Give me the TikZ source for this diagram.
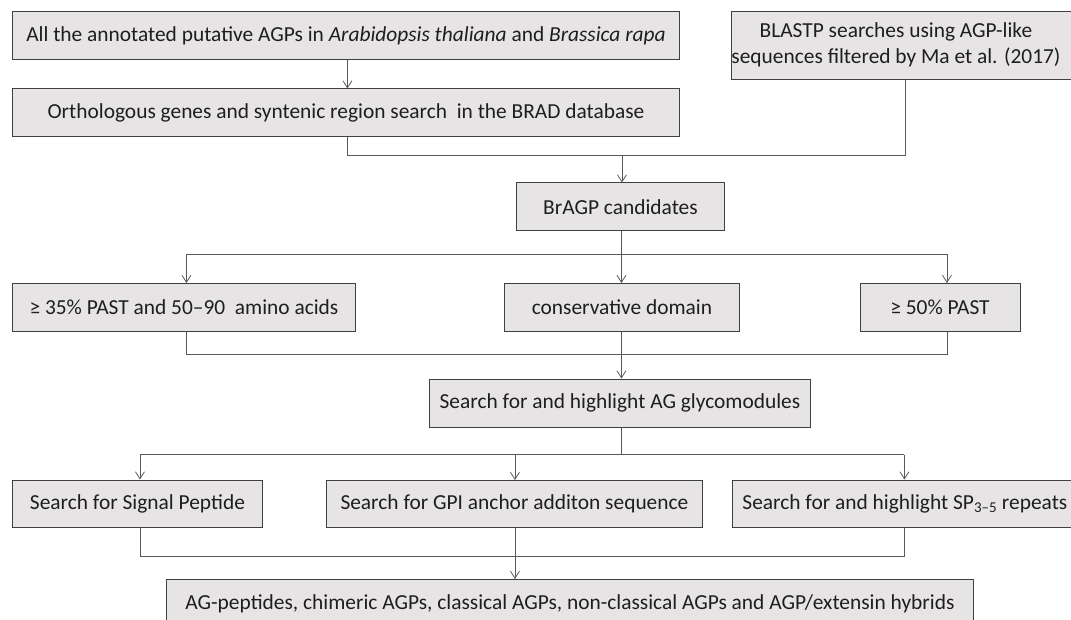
\documentclass[tikz,border=0pt]{standalone}
\usepackage{fontspec}
\setmainfont{Carlito}
\usetikzlibrary{arrows.meta}
\definecolor{boxfill}{RGB}{231,228,229}
\definecolor{boxline}{RGB}{64,64,64}
\definecolor{conn}{RGB}{89,89,89}
\definecolor{txt}{RGB}{30,30,30}
\begin{document}
\begin{tikzpicture}[x=1pt,y=-1pt,
  box/.style={draw=boxline, fill=boxfill, text=txt, line width=0.9pt, anchor=north west, inner sep=0pt, font=\fontsize{21.4}{26}\selectfont},
  arr/.style={draw=conn, line width=0.8pt, -{Straight Barb[length=7pt,width=9pt]}},
  ln/.style={draw=conn, line width=0.8pt}]
\useasboundingbox (0,0) rectangle (1071,620);
\clip (0,0) rectangle (1071,620);
% boxes
\node[box, minimum width=667pt, minimum height=48.5pt] (b1) at (12,11) {All the annotated putative AGPs in \textit{Arabidopsis thaliana} and \textit{Brassica rapa}};
\node[box, minimum width=667pt, minimum height=47.5pt] (b2) at (12,88.5) {Orthologous genes and syntenic region search\ \ in the BRAD database};
\node[box, minimum width=349pt, minimum height=68pt] (blast) at (731,11.3) {\makebox[349pt][l]{\begin{tabular}{@{}c@{}}BLASTP searches using AGP-like\\sequences filtered by Ma et al. (2017)\end{tabular}}};
\node[box, minimum width=208pt, minimum height=47.5pt] (bragp) at (516,182.5) {BrAGP candidates};
\node[box, minimum width=343pt, minimum height=48pt] (r1) at (12,283) {≥ 35\% PAST and 50–90\ \ amino acids};
\node[box, minimum width=235pt, minimum height=48pt] (r2) at (504,283) {conservative domain};
\node[box, minimum width=160pt, minimum height=48pt] (r3) at (859.5,283) {≥ 50\% PAST};
\node[box, minimum width=381pt, minimum height=48.5pt] (ag) at (429,378.5) {Search for and highlight AG glycomodules};
\node[box, minimum width=250pt, minimum height=47.5pt] (s1) at (12,479.5) {Search for Signal Peptide};
\node[box, minimum width=376pt, minimum height=47pt] (s2) at (326,480) {Search for GPI anchor additon sequence};
\node[box, minimum width=350pt, minimum height=47.5pt] (s3) at (732,479.5) {\makebox[330pt][l]{Search for and highlight SP\textsubscript{3–5} repeats}};
\node[box, minimum width=807pt, minimum height=48pt] (fin) at (166,579) {AG-peptides, chimeric AGPs, classical AGPs, non-classical AGPs and AGP/extensin hybrids};
% junction levels
\coordinate (m1) at (0,155.3);
\coordinate (m2) at (0,254.4);
\coordinate (m3) at (0,354.5);
\coordinate (m4) at (0,454.5);
\coordinate (m5) at (0,556);
% drop points
\path ([xshift=1.5pt]b1.south) coordinate (b1s)
      ([xshift=1.5pt]b2.north) coordinate (b2n)
      ([xshift=1.5pt]b2.south) coordinate (b2s)
      ([xshift=-1pt]blast.south) coordinate (bls)
      ([xshift=1.5pt]bragp.north) coordinate (bgn)
      ([xshift=0.5pt]bragp.south) coordinate (bgs)
      ([xshift=2.5pt]r1.north) coordinate (r1n)
      ([xshift=2.5pt]r1.south) coordinate (r1s)
      ([xshift=-0.5pt]r2.north) coordinate (r2n)
      ([xshift=-0.5pt]r2.south) coordinate (r2s)
      ([xshift=7pt]r3.north) coordinate (r3n)
      ([xshift=7pt]r3.south) coordinate (r3s)
      ([xshift=2.5pt]s1.north) coordinate (s1n)
      ([xshift=2.5pt]s1.south) coordinate (s1s)
      ([xshift=0.5pt]s2.north) coordinate (s2n)
      ([xshift=0.5pt]s2.south) coordinate (s2s)
      ([xshift=-3pt]s3.north) coordinate (s3n)
      ([xshift=-3pt]s3.south) coordinate (s3s);
% connectors
\draw[arr] (b1s) -- (b2n);
\draw[ln] (bls) |- (b2s |- m1) -- (b2s);
\draw[arr] (bgn |- m1) -- (bgn);
\draw[ln] (bgs) -- (bgs |- m2);
\draw[ln] (r1n |- m2) -- (r3n |- m2);
\draw[arr] (r1n |- m2) -- (r1n);
\draw[arr] (r2n |- m2) -- (r2n);
\draw[arr] (r3n |- m2) -- (r3n);
\draw[ln] (r1s) |- (r3s |- m3) -- (r3s);
\draw[ln] (r2s) -- (r2s |- m3);
\draw[arr] (r2s |- m3) -- (r2s |- ag.north);
\draw[ln] (r2s |- ag.south) -- (r2s |- m4);
\draw[ln] (s1n |- m4) -- (s3n |- m4);
\draw[arr] (s1n |- m4) -- (s1n);
\draw[arr] (s2n |- m4) -- (s2n);
\draw[arr] (s3n |- m4) -- (s3n);
\draw[ln] (s1s) |- (s3s |- m5) -- (s3s);
\draw[ln] (s2s) -- (s2s |- m5);
\draw[arr] (s2s |- m5) -- (s2s |- fin.north);
\end{tikzpicture}
\end{document}
